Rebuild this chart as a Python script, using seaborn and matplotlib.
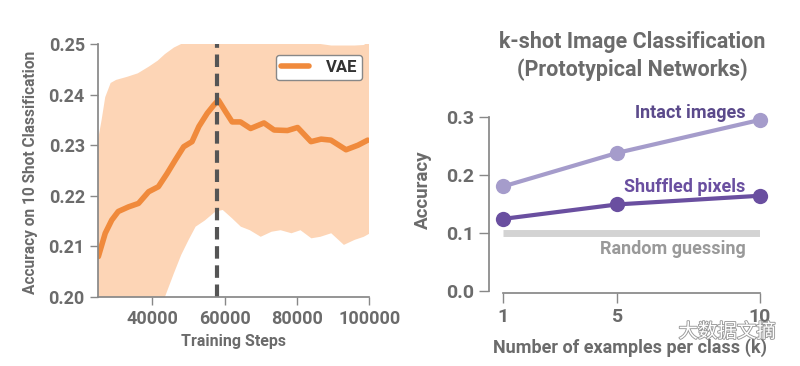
import matplotlib
matplotlib.use("Agg")
import matplotlib.pyplot as plt
import matplotlib.patheffects as pe
import seaborn as sns
import pandas as pd

# left panel: VAE accuracy during training (mean line + spread band)
steps = [25100, 27000, 28800, 30600, 33400, 36200, 39000, 41700, 44100, 46400,
         48700, 51000, 52900, 55200, 57000, 58300, 60300, 62100, 64400, 67200,
         70900, 73700, 77400, 80200, 83900, 86700, 89400, 93600, 96900, 99600]
vae_acc = [0.2080, 0.2126, 0.2152, 0.2169, 0.2178, 0.2185, 0.2208, 0.2218, 0.2244, 0.2271,
           0.2297, 0.2307, 0.2337, 0.2363, 0.2379, 0.2389, 0.2366, 0.2346, 0.2346, 0.2333,
           0.2344, 0.2330, 0.2329, 0.2335, 0.2307, 0.2312, 0.2310, 0.2291, 0.2300, 0.2310]

band_steps = [25000, 26000, 27000, 28500, 30000, 33000, 36000, 39000, 41500, 43500,
              46000, 48000, 50000, 52000, 54500, 57500, 59500, 62000, 64500, 67000,
              70000, 73000, 75500, 78500, 81000, 84000, 86500, 89500, 93000, 96000,
              98500, 100000]
band_upper = [0.2310, 0.2350, 0.2395, 0.2423, 0.2429, 0.2435, 0.2442, 0.2455, 0.2467, 0.2480,
              0.2493, 0.2500, 0.2508, 0.2520, 0.2525, 0.2530, 0.2530, 0.2525, 0.2525, 0.2520,
              0.2520, 0.2515, 0.2515, 0.2510, 0.2510, 0.2505, 0.2500, 0.2497, 0.2497, 0.2497,
              0.2498, 0.2505]
band_lower = [0.1700, 0.1720, 0.1740, 0.1770, 0.1800, 0.1850, 0.1890, 0.1930, 0.1970, 0.2000,
              0.2047, 0.2083, 0.2112, 0.2139, 0.2151, 0.2169, 0.2172, 0.2156, 0.2139, 0.2132,
              0.2119, 0.2129, 0.2132, 0.2126, 0.2132, 0.2116, 0.2119, 0.2126, 0.2103, 0.2113,
              0.2119, 0.2125]
best_step = 57800

# right panel: k-shot classification
k_shots = [1, 5, 10]
intact = [0.180, 0.238, 0.295]
shuffled = [0.124, 0.149, 0.164]
random_guess = 0.10

grey = "#6b6b6b"
orange = "#f08a3c"
band_col = "#fdd5b6"
light_purple = "#a59ccb"
dark_purple = "#6a4fa0"

sns.set_theme(style="ticks")
plt.rcParams["font.family"] = ["Roboto", "DejaVu Sans"]
plt.rcParams["font.weight"] = "bold"
plt.rcParams["axes.labelweight"] = "bold"
plt.rcParams["text.color"] = grey
plt.rcParams["axes.labelcolor"] = grey
plt.rcParams["xtick.color"] = "#888888"
plt.rcParams["ytick.color"] = "#888888"
plt.rcParams["xtick.labelcolor"] = grey
plt.rcParams["ytick.labelcolor"] = grey

fig = plt.figure(figsize=(8, 3.66), dpi=100)

# ---- left chart
ax1 = fig.add_axes([0.1225, 0.1885, 0.339, 0.6913])
ax1.fill_between(band_steps, band_lower, band_upper, color=band_col, lw=0)
vae = pd.DataFrame({"step": steps, "acc": vae_acc})
sns.lineplot(data=vae, x="step", y="acc", color=orange, lw=4, ax=ax1, label="VAE")
ax1.axvline(best_step, color="#555555", lw=3, ls=(0, (3, 1.6)))
ax1.set_xlim(25000, 100000)
ax1.set_ylim(0.20, 0.25)
ax1.set_xticks([40000, 60000, 80000, 100000])
ax1.set_xticklabels(["40000", "60000", "80000", "100000"])
ax1.set_yticks([0.20, 0.21, 0.22, 0.23, 0.24, 0.25])
ax1.set_yticklabels(["0.20", "0.21", "0.22", "0.23", "0.24", "0.25"])
ax1.set_xlabel("Training Steps", fontsize=11.5)
ax1.set_ylabel("Accuracy on 10 Shot Classification", fontsize=11.2)
ax1.xaxis.set_label_coords(0.498, -0.146)
ax1.yaxis.set_label_coords(-0.221, 0.494)
ax1.tick_params(labelsize=13, length=6, width=1)
for s in ["top", "right"]:
    ax1.spines[s].set_visible(False)
for s in ["left", "bottom"]:
    ax1.spines[s].set_color("#888888")
leg = ax1.legend(loc="upper right", fontsize=12, frameon=True, fancybox=True,
                 handlelength=1.7, handletextpad=1.0, borderpad=0.3, borderaxespad=0,
                 bbox_to_anchor=(0.974, 0.957))
leg.get_frame().set_edgecolor("#888888")
leg.get_frame().set_alpha(1)
for t in leg.get_texts():
    t.set_color("#333333")

# ---- right chart
ax2 = fig.add_axes([0.62875, 0.2057, 0.32125, 0.5063])
ax2.plot([1, 10], [random_guess, random_guess], color="#d3d3d3", lw=5, solid_capstyle="butt")
sns.lineplot(x=k_shots, y=intact, color=light_purple, lw=3, marker="o", markersize=11,
             markeredgewidth=0, ax=ax2, clip_on=False)
sns.lineplot(x=k_shots, y=shuffled, color=dark_purple, lw=3, marker="o", markersize=11,
             markeredgewidth=0, ax=ax2, clip_on=False)
ax2.set_xlim(1, 10)
ax2.set_ylim(0, 0.32)
ax2.set_xticks(k_shots)
ax2.set_yticks([0.0, 0.1, 0.2, 0.3])
ax2.set_yticklabels(["0.0", "0.1", "0.2", "0.3"])
ax2.tick_params(labelsize=14, length=7, width=1)
for s in ["top", "right"]:
    ax2.spines[s].set_visible(False)
ax2.spines["left"].set_position(("outward", 10))
ax2.spines["bottom"].set_position(("outward", 2))
ax2.spines["left"].set_bounds(0, 0.3)
ax2.spines["bottom"].set_bounds(1, 10)
for s in ["left", "bottom"]:
    ax2.spines[s].set_color("#888888")
ax2.set_xlabel("Number of examples per class (k)", fontsize=13)
ax2.set_ylabel("Accuracy", fontsize=13.5)
ax2.xaxis.set_label_coords(0.494, -0.255)
ax2.yaxis.set_label_coords(-0.276, 0.543)
ax2.text(9.49, 0.307, "Intact images", color="#5b4a8b", fontsize=13, ha="right", va="center")
ax2.text(9.49, 0.179, "Shuffled pixels", color=dark_purple, fontsize=13, ha="right", va="center")
ax2.text(9.49, 0.072, "Random guessing", color="#999999", fontsize=13, ha="right", va="center")
ax2.text(0.502, 1.267, "k-shot Image Classification\n(Prototypical Networks)", transform=ax2.transAxes,
         fontsize=15.5, ha="center", va="center", linespacing=1.3)

# watermark
fig.text(0.97, 0.093, "大数据文摘", family=["Noto Sans CJK SC", "DejaVu Sans"], fontsize=14,
         fontweight="normal", color="white", ha="right", va="center",
         path_effects=[pe.Stroke(linewidth=1.3, foreground="#999999"), pe.Normal()])

fig.savefig("out.png", dpi=100)
